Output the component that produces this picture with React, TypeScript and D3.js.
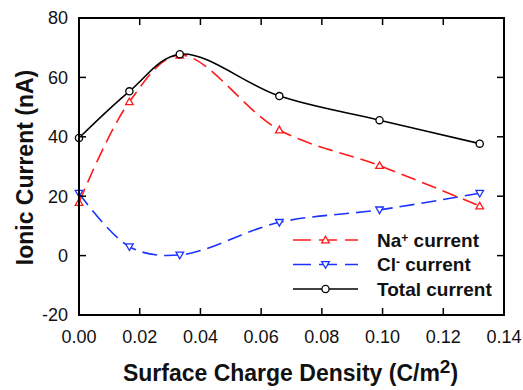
import { useEffect, useRef } from 'react';
import * as d3 from 'd3';

const xValues = [0, 0.0166, 0.0332, 0.066, 0.099, 0.132];
const naCurrent = [17.9, 51.8, 67.5, 42.3, 30.3, 16.7];
const clCurrent = [21.0, 3.0, 0.2, 11.2, 15.4, 21.0];
const totalCurrent = [39.6, 55.3, 67.8, 53.7, 45.6, 37.7];
const xTicks = [0, 0.02, 0.04, 0.06, 0.08, 0.1, 0.12, 0.14];
const yTicks = [-20, 0, 20, 40, 60, 80];

const W = 523;
const H = 390;

export default function App() {
  const svgRef = useRef<SVGSVGElement>(null);

  useEffect(() => {
    if (!svgRef.current) return;
    const svg = d3.select(svgRef.current);
    svg.selectAll('*').remove();

    const margin = { top: 18, right: 19, bottom: 75, left: 79 };
    const cw = W - margin.left - margin.right;
    const ch = H - margin.top - margin.bottom;
    const font = 'Arial, "Liberation Sans", sans-serif';

    const x = d3.scaleLinear().domain([0, 0.14]).range([0, cw]);
    const y = d3.scaleLinear().domain([-20, 80]).range([ch, 0]);

    const g = svg.append('g').attr('transform', `translate(${margin.left},${margin.top})`);

    const series = [
      { name: 'na', values: naCurrent, color: '#ff1a1a', dash: '15,7', marker: 'up' },
      { name: 'cl', values: clCurrent, color: '#1a33ff', dash: '15,7', marker: 'down' },
      { name: 'total', values: totalCurrent, color: '#000', dash: null, marker: 'circle' },
    ];

    // smooth spline through the points, like the original plot
    const line = d3.line<number>()
      .x((_, i) => x(xValues[i]))
      .y(d => y(d))
      .curve(d3.curveCatmullRom.alpha(0.5));

    const drawMarker = (sel: any, kind: string, color: string, cx: number, cy: number) => {
      if (kind === 'circle') {
        sel.append('circle').attr('cx', cx).attr('cy', cy).attr('r', 3.6)
          .attr('fill', 'white').attr('stroke', color).attr('stroke-width', 1.3);
      } else {
        const s = 3.8;
        const pts = kind === 'up'
          ? [[cx, cy - s], [cx - s, cy + s * 0.75], [cx + s, cy + s * 0.75]]
          : [[cx, cy + s], [cx - s, cy - s * 0.75], [cx + s, cy - s * 0.75]];
        sel.append('polygon').attr('points', pts.map(p => p.join(',')).join(' '))
          .attr('fill', 'white').attr('stroke', color).attr('stroke-width', 1.3);
      }
    };

    // Lines and markers (blue first, then red, then black on top)
    [series[1], series[0], series[2]].forEach(s => {
      g.append('path')
        .attr('d', line(s.values))
        .attr('fill', 'none')
        .attr('stroke', s.color)
        .attr('stroke-width', 1.6)
        .attr('stroke-dasharray', s.dash);
      s.values.forEach((v, i) => drawMarker(g, s.marker, s.color, x(xValues[i]), y(v)));
    });

    // Frame
    g.append('rect').attr('x', 0).attr('y', 0).attr('width', cw).attr('height', ch)
      .attr('fill', 'none').attr('stroke', '#000').attr('stroke-width', 2);

    // Inward ticks on all sides
    const tl = 7;
    xTicks.slice(1, -1).forEach(t => {
      g.append('line').attr('x1', x(t)).attr('x2', x(t)).attr('y1', ch).attr('y2', ch - tl)
        .attr('stroke', '#000').attr('stroke-width', 1.5);
      g.append('line').attr('x1', x(t)).attr('x2', x(t)).attr('y1', 0).attr('y2', tl)
        .attr('stroke', '#000').attr('stroke-width', 1.5);
    });
    yTicks.slice(1, -1).forEach(t => {
      g.append('line').attr('x1', 0).attr('x2', tl).attr('y1', y(t)).attr('y2', y(t))
        .attr('stroke', '#000').attr('stroke-width', 1.5);
      g.append('line').attr('x1', cw).attr('x2', cw - tl).attr('y1', y(t)).attr('y2', y(t))
        .attr('stroke', '#000').attr('stroke-width', 1.5);
    });

    // Tick labels
    xTicks.forEach(t => {
      g.append('text').attr('x', x(t)).attr('y', ch + 28)
        .attr('text-anchor', 'middle').attr('font-family', font).attr('font-size', 18)
        .attr('fill', '#111').text(t.toFixed(2));
    });
    yTicks.forEach(t => {
      g.append('text').attr('x', -11).attr('y', y(t)).attr('dy', '0.35em')
        .attr('text-anchor', 'end').attr('font-family', font).attr('font-size', 18)
        .attr('fill', '#111').text(t);
    });

    // Axis titles
    const xt = g.append('text').attr('x', cw / 2 - 1).attr('y', ch + 66)
      .attr('text-anchor', 'middle').attr('font-family', font).attr('font-size', 23)
      .attr('font-weight', 'bold').attr('fill', '#111');
    xt.append('tspan').text('Surface Charge Density (C/m');
    xt.append('tspan').attr('baseline-shift', '40%').attr('font-size', 19).text('2');
    xt.append('tspan').text(')');

    g.append('text')
      .attr('transform', `translate(${-46},${ch / 2 + 1}) rotate(-90)`)
      .attr('text-anchor', 'middle').attr('font-family', font).attr('font-size', 23)
      .attr('font-weight', 'bold').attr('fill', '#111').text('Ionic Current (nA)');

    // Legend
    const legendRows = [
      { s: series[0], label: 'Na', sup: '+' },
      { s: series[1], label: 'Cl', sup: '-' },
      { s: series[2], label: 'Total current', sup: null },
    ];
    legendRows.forEach((r, i) => {
      const ly = 222 + i * 24.5;
      const lx1 = 214;
      const lx2 = 279;
      g.append('line').attr('x1', lx1).attr('x2', lx2).attr('y1', ly).attr('y2', ly)
        .attr('stroke', r.s.color).attr('stroke-width', 1.6)
        .attr('stroke-dasharray', r.s.dash ? '18,8' : null);
      drawMarker(g, r.s.marker, r.s.color, (lx1 + lx2) / 2, ly);
      const t = g.append('text').attr('x', 298).attr('y', ly).attr('dy', '0.35em')
        .attr('font-family', font).attr('font-size', 19).attr('font-weight', 'bold')
        .attr('fill', '#111');
      if (r.sup) {
        t.append('tspan').text(r.label);
        t.append('tspan').attr('baseline-shift', '45%').attr('font-size', 12).text(r.sup);
        t.append('tspan').text(' current');
      } else {
        t.text(r.label);
      }
    });
  }, []);

  return (
    <svg ref={svgRef} width={W} height={H}
      style={{ position: 'absolute', left: 0, top: 0, background: 'white' }} />
  );
}
